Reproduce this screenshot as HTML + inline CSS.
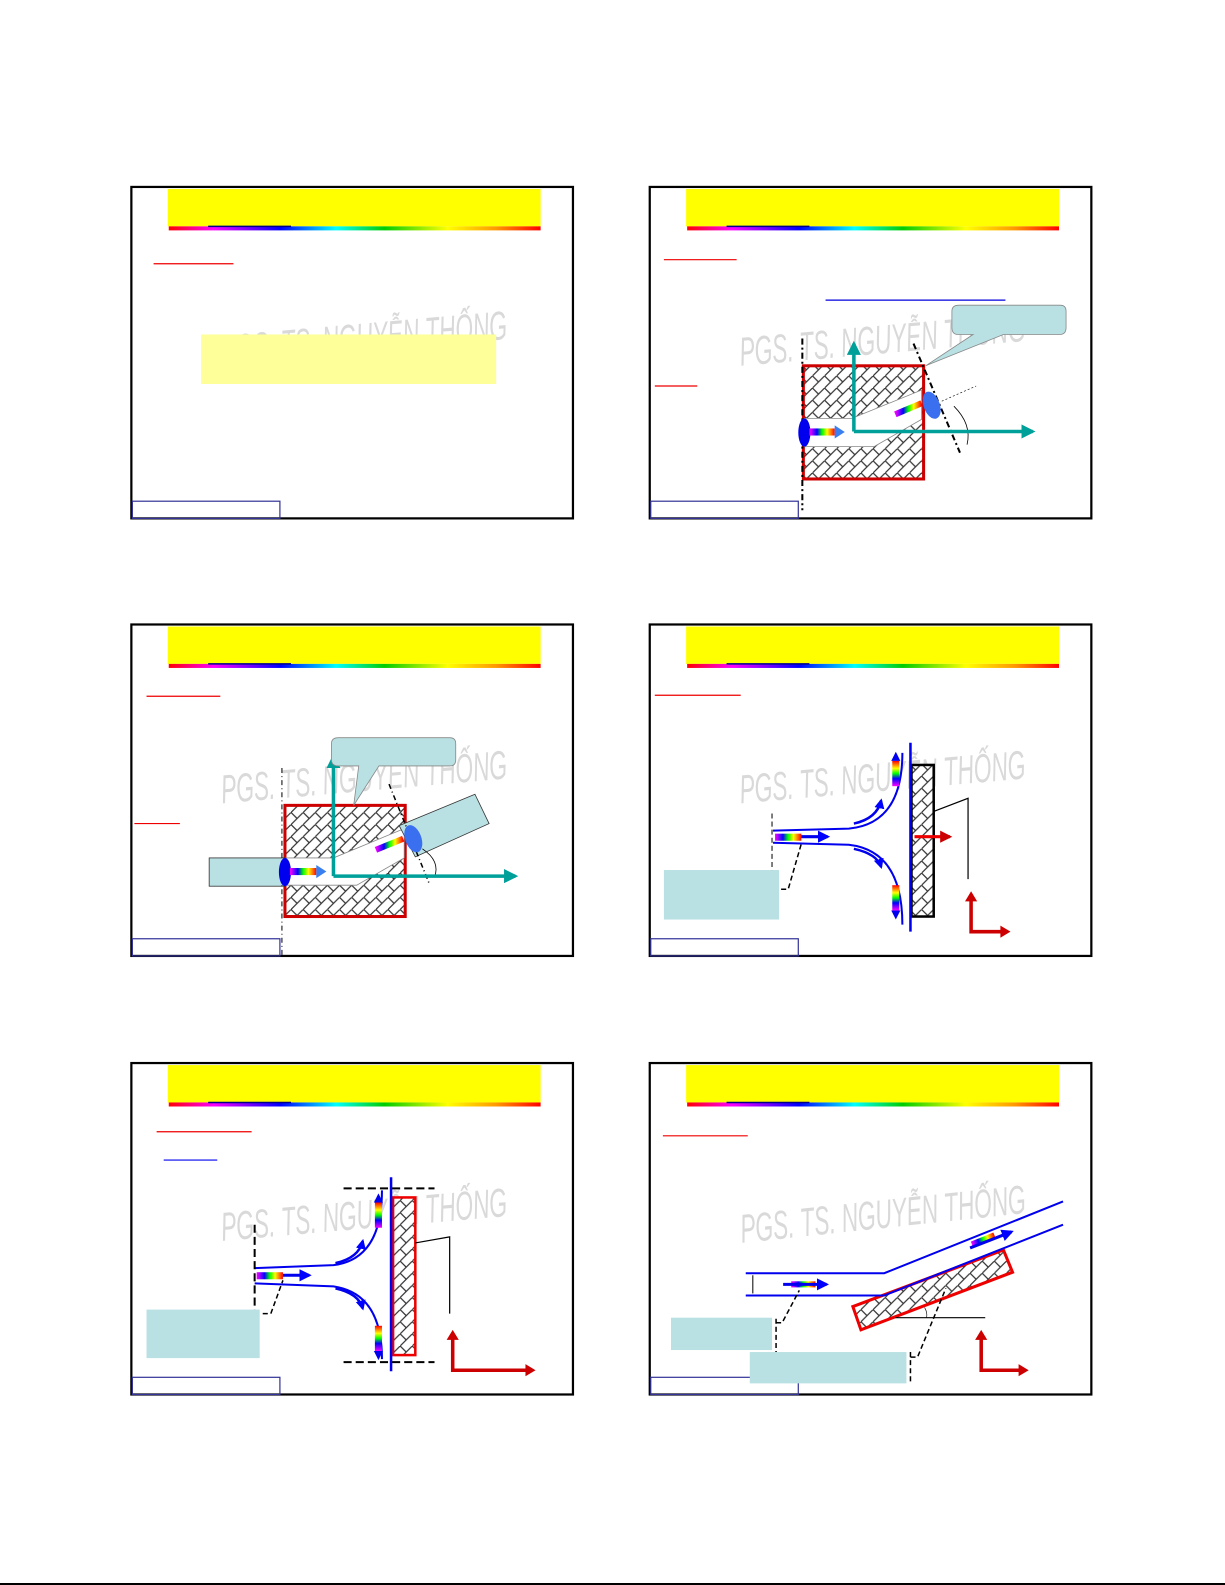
<!DOCTYPE html>
<html><head><meta charset="utf-8"><style>
html,body{margin:0;padding:0;background:#fff;overflow:hidden;width:1225px;height:1585px;}
svg{display:block;}
.wm{font-family:"Liberation Sans",sans-serif;font-style:italic;font-size:40px;fill:#d9d9d9;}
</style></head><body>
<svg width="1225" height="1585" viewBox="0 0 1225 1585" xmlns="http://www.w3.org/2000/svg">
<defs>
<linearGradient id="rb" x1="0" x2="1" y1="0" y2="0">
<stop offset="0" stop-color="#f00"/><stop offset="0.12" stop-color="#f0f"/><stop offset="0.3" stop-color="#00f"/><stop offset="0.45" stop-color="#0ff"/><stop offset="0.58" stop-color="#0c0"/><stop offset="0.75" stop-color="#ff0"/><stop offset="0.88" stop-color="#f90"/><stop offset="1" stop-color="#f00"/>
</linearGradient>
<linearGradient id="ar" x1="0" x2="1">
<stop offset="0" stop-color="#f0f"/><stop offset="0.3" stop-color="#00f"/><stop offset="0.5" stop-color="#0f0"/><stop offset="0.7" stop-color="#ff0"/><stop offset="1" stop-color="#f00"/>
</linearGradient>
<linearGradient id="arv" x1="0" x2="0" y1="0" y2="1">
<stop offset="0" stop-color="#f00"/><stop offset="0.3" stop-color="#ff0"/><stop offset="0.5" stop-color="#0f0"/><stop offset="0.7" stop-color="#00f"/><stop offset="1" stop-color="#f0f"/>
</linearGradient>
<pattern id="hatch" width="12" height="12" patternUnits="userSpaceOnUse">
<rect width="12" height="12" fill="#fff"/>
<path d="M0 12 L12 0 M0 0 L6 6" stroke="#333" stroke-width="1.2" fill="none"/>
</pattern>
<g id="frame">
<rect x="0" y="0" width="437" height="328" fill="#fff" stroke="#000" stroke-width="2.2"/>
<rect x="36" y="2" width="369" height="37" fill="#ff0"/>
<rect x="37" y="39" width="368" height="4" fill="url(#rb)"/>
<line x1="76" y1="39" x2="158" y2="39" stroke="#00008b" stroke-width="1.5"/>
<rect x="1" y="311" width="146" height="17" fill="none" stroke="#333399" stroke-width="1.2"/>
</g>
<marker id="ta" viewBox="0 0 10 10" refX="8" refY="5" markerWidth="4" markerHeight="4" orient="auto"><path d="M0 0L10 5L0 10z" fill="#00a09a"/></marker>
<marker id="ba" viewBox="0 0 10 10" refX="8" refY="5" markerWidth="4" markerHeight="4" orient="auto"><path d="M0 0L10 5L0 10z" fill="#00f"/></marker>
<marker id="ra" viewBox="0 0 10 10" refX="8" refY="5" markerWidth="4" markerHeight="4" orient="auto"><path d="M0 0L10 5L0 10z" fill="#c00"/></marker>
</defs>

<g transform="scale(1.0105)">
<use href="#frame" x="130" y="185"/>
<use href="#frame" x="643" y="185"/>
<use href="#frame" x="130" y="618"/>
<use href="#frame" x="643" y="618"/>
<use href="#frame" x="130" y="1052"/>
<use href="#frame" x="643" y="1052"/>

<!-- Slide 1 -->
<line x1="152" y1="261" x2="231" y2="261" stroke="#e00" stroke-width="1.2"/>
<g transform="translate(220 360) rotate(-5) scale(0.56 1)"><text class="wm" x="0" y="0">PGS. TS. NGUYỄN THỐNG</text></g>
<rect x="199" y="331" width="292" height="49" fill="#ffff99"/>

<!-- Slide 2 -->
<line x1="657" y1="257" x2="729" y2="257" stroke="#e00" stroke-width="1.2"/>
<line x1="817" y1="297" x2="995" y2="297" stroke="#00d" stroke-width="1.2"/>
<line x1="648" y1="382" x2="690" y2="382" stroke="#e00" stroke-width="1.2"/>
<g transform="translate(733 362) rotate(-5) scale(0.56 1)"><text class="wm" x="0" y="0">PGS. TS. NGUYỄN THỐNG</text></g>
<rect x="795" y="362" width="119" height="112" fill="url(#hatch)" stroke="#c00" stroke-width="3"/>
<path d="M796 414 L843 414 L912 386 L912 415 L865 442 L796 442Z" fill="#fff" stroke="#888" stroke-width="0.8"/>
<line x1="794" y1="335" x2="794" y2="505" stroke="#000" stroke-width="2" stroke-dasharray="6,3,2,3"/>
<line x1="904" y1="340" x2="950" y2="448" stroke="#000" stroke-width="2" stroke-dasharray="6,3,2,3"/>
<path d="M944 402 Q962 420 957 440" fill="none" stroke="#000" stroke-width="0.8"/>
<line x1="932" y1="397" x2="966" y2="382" stroke="#000" stroke-width="0.6" stroke-dasharray="2,2"/>
<ellipse cx="796" cy="428" rx="6" ry="14" fill="#00e"/>
<rect x="801" y="424" width="25" height="7" fill="url(#ar)"/>
<path d="M826 421 L836 427.5 L826 434Z" fill="#3a7ff0"/>
<ellipse cx="922" cy="401" rx="8" ry="14" fill="#3a6ff0" transform="rotate(-20 922 401)"/>
<line x1="886" y1="410" x2="912" y2="399" stroke="url(#ar)" stroke-width="6"/>
<line x1="845" y1="427" x2="1022" y2="427" stroke="#00a09a" stroke-width="3.5" marker-end="url(#ta)"/>
<line x1="845" y1="427" x2="845" y2="340" stroke="#00a09a" stroke-width="3.5" marker-end="url(#ta)"/>
<path d="M949 302 L1049 302 Q1055 302 1055 308 L1055 324 Q1055 331 1049 331 L993 331 L916 362 L963 331 L948 331 Q942 331 942 324 L942 308 Q942 302 949 302Z" fill="#b9e0e3" stroke="#888" stroke-width="0.8"/>

<!-- Slide 3 -->
<line x1="145" y1="689" x2="218" y2="689" stroke="#e00" stroke-width="1.2"/>
<line x1="133" y1="815" x2="178" y2="815" stroke="#e00" stroke-width="1.2"/>
<g transform="translate(220 795) rotate(-5) scale(0.56 1)"><text class="wm" x="0" y="0">PGS. TS. NGUYỄN THỐNG</text></g>
<rect x="282" y="797" width="119" height="110" fill="url(#hatch)" stroke="#c00" stroke-width="3"/>
<path d="M283 849 L330 849 L400 820 L400 849 L353 876 L283 876Z" fill="#fff" stroke="#888" stroke-width="0.8"/>
<path d="M395 817 L470 786 L484 815 L411 848Z" fill="#b9e0e3" stroke="#333" stroke-width="0.8"/>
<rect x="207" y="849" width="75" height="28" fill="#b9e0e3" stroke="#333" stroke-width="0.8"/>
<line x1="279" y1="760" x2="279" y2="945" stroke="#000" stroke-width="1" stroke-dasharray="5,3,1,3"/>
<line x1="385" y1="776" x2="425" y2="875" stroke="#000" stroke-width="1.5" stroke-dasharray="5,3,1,3"/>
<path d="M418 840 Q436 852 430 868" fill="none" stroke="#000" stroke-width="0.8"/>
<ellipse cx="282" cy="863" rx="6" ry="14" fill="#00e"/>
<rect x="287" y="859" width="26" height="7" fill="url(#ar)"/>
<path d="M313 856 L323 862.5 L313 869Z" fill="#3a7ff0"/>
<ellipse cx="409" cy="830" rx="8" ry="14" fill="#3a6ff0" transform="rotate(-20 409 830)"/>
<line x1="372" y1="841" x2="399" y2="830" stroke="url(#ar)" stroke-width="6"/>
<line x1="330" y1="867" x2="510" y2="867" stroke="#00a09a" stroke-width="3.5" marker-end="url(#ta)"/>
<line x1="330" y1="867" x2="330" y2="749" stroke="#00a09a" stroke-width="3.5" marker-end="url(#ta)"/>
<path d="M335 730 L445 730 Q451 730 451 736 L451 752 Q451 758 445 758 L375 758 L350 797 L355 758 L335 758 Q328 758 328 752 L328 736 Q328 730 335 730Z" fill="#b9e0e3" stroke="#888" stroke-width="0.8"/>

<!-- Slide 4 -->
<line x1="648" y1="688" x2="733" y2="688" stroke="#e00" stroke-width="1.2"/>
<g transform="translate(733 795) rotate(-5) scale(0.56 1)"><text class="wm" x="0" y="0">PGS. TS. NGUYỄN THỐNG</text></g>
<rect x="902" y="757" width="22" height="150" fill="url(#hatch)" stroke="#000" stroke-width="2.5"/>
<line x1="901" y1="735" x2="901" y2="922" stroke="#00e" stroke-width="2.5"/>
<path d="M765 822 L840 820 Q893 815 893 745" fill="none" stroke="#00e" stroke-width="2"/>
<path d="M765 834 L840 836 Q893 842 893 915" fill="none" stroke="#00e" stroke-width="2"/>
<line x1="764" y1="805" x2="764" y2="880" stroke="#000" stroke-width="1" stroke-dasharray="5,3"/>
<rect x="767" y="825" width="26" height="7" fill="url(#ar)"/>
<line x1="793" y1="828" x2="819" y2="828" stroke="#00e" stroke-width="3" marker-end="url(#ba)"/>
<path d="M845 815 Q868 810 872 792" fill="none" stroke="#00e" stroke-width="2.5" marker-end="url(#ba)"/>
<path d="M845 840 Q868 845 872 858" fill="none" stroke="#00e" stroke-width="2.5" marker-end="url(#ba)"/>
<rect x="883" y="753" width="7" height="25" fill="url(#arv)"/>
<path d="M882 753 L886.5 744 L891 753Z" fill="#00e"/>
<rect x="883" y="876" width="7" height="25" fill="url(#arv)"/>
<path d="M882 901 L886.5 910 L891 901Z" fill="#00e"/>
<line x1="905" y1="828" x2="940" y2="828" stroke="#e00" stroke-width="3" marker-end="url(#ra)"/>
<path d="M924 803 L958 790 L958 870" fill="none" stroke="#000" stroke-width="1.2"/>
<path d="M773 880 L780 880 L793 835" fill="none" stroke="#000" stroke-width="1.5" stroke-dasharray="5,3"/>
<rect x="657" y="861" width="114" height="49" fill="#b9e0e3"/>
<path d="M961 890 L961 922 L992 922" fill="none" stroke="#c00" stroke-width="3.5"/>
<path d="M955 892 L961 882 L967 892Z M990 916 L1000 922 L990 928Z" fill="#c00"/>

<!-- Slide 5 -->
<line x1="155" y1="1120" x2="249" y2="1120" stroke="#e00" stroke-width="1.2"/>
<line x1="162" y1="1148" x2="215" y2="1148" stroke="#00e" stroke-width="1.2"/>
<g transform="translate(220 1228) rotate(-5) scale(0.56 1)"><text class="wm" x="0" y="0">PGS. TS. NGUYỄN THỐNG</text></g>
<rect x="389" y="1185" width="22" height="156" fill="url(#hatch)" stroke="#e00" stroke-width="2.5"/>
<line x1="387" y1="1165" x2="387" y2="1357" stroke="#00e" stroke-width="2.5"/>
<line x1="340" y1="1176" x2="430" y2="1176" stroke="#000" stroke-width="2" stroke-dasharray="8,4"/>
<line x1="340" y1="1348" x2="430" y2="1348" stroke="#000" stroke-width="2" stroke-dasharray="8,4"/>
<path d="M252 1255 L330 1252 Q378 1246 378 1178" fill="none" stroke="#00e" stroke-width="2"/>
<path d="M252 1270 L330 1273 Q378 1280 378 1345" fill="none" stroke="#00e" stroke-width="2"/>
<line x1="252" y1="1212" x2="252" y2="1340" stroke="#000" stroke-width="2" stroke-dasharray="8,4"/>
<rect x="254" y="1259" width="26" height="7" fill="url(#ar)"/>
<line x1="280" y1="1262" x2="306" y2="1262" stroke="#00e" stroke-width="3" marker-end="url(#ba)"/>
<path d="M332 1250 Q355 1245 359 1228" fill="none" stroke="#00e" stroke-width="2.5" marker-end="url(#ba)"/>
<path d="M332 1275 Q355 1280 359 1295" fill="none" stroke="#00e" stroke-width="2.5" marker-end="url(#ba)"/>
<rect x="371" y="1190" width="7" height="25" fill="url(#arv)"/>
<path d="M370 1190 L374.5 1181 L379 1190Z" fill="#00e"/>
<rect x="371" y="1312" width="7" height="25" fill="url(#arv)"/>
<path d="M370 1337 L374.5 1346 L379 1337Z" fill="#00e"/>
<path d="M411 1230 L445 1224 L445 1300" fill="none" stroke="#000" stroke-width="1.2"/>
<path d="M260 1300 L268 1300 L280 1267" fill="none" stroke="#000" stroke-width="1.5" stroke-dasharray="5,3"/>
<rect x="145" y="1296" width="112" height="48" fill="#b9e0e3"/>
<path d="M448 1324 L448 1356 L522 1356" fill="none" stroke="#c00" stroke-width="3.5"/>
<path d="M442 1326 L448 1316 L454 1326Z M520 1350 L530 1356 L520 1362Z" fill="#c00"/>

<!-- Slide 6 -->
<line x1="656" y1="1124" x2="740" y2="1124" stroke="#e00" stroke-width="1.2"/>
<g transform="translate(734 1230) rotate(-6) scale(0.56 1)"><text class="wm" x="0" y="0">PGS. TS. NGUYỄN THỐNG</text></g>
<polygon points="844,1293 993,1237 1002,1259 852,1316" fill="url(#hatch)" stroke="#e00" stroke-width="3"/>
<path d="M738 1260 L875 1260 L1052 1189" fill="none" stroke="#00e" stroke-width="2"/>
<path d="M738 1282 L875 1282 L1052 1212" fill="none" stroke="#00e" stroke-width="2"/>
<line x1="745" y1="1262" x2="745" y2="1280" stroke="#000" stroke-width="1"/>
<rect x="783" y="1268" width="24" height="6" fill="url(#ar)"/>
<line x1="775" y1="1271" x2="818" y2="1271" stroke="#00e" stroke-width="3" marker-end="url(#ba)"/>
<rect x="961" y="1224" width="24" height="6" fill="url(#ar)" transform="rotate(-22 973 1227)"/>
<line x1="960" y1="1235" x2="1001" y2="1219" stroke="#00e" stroke-width="3" marker-end="url(#ba)"/>
<line x1="886" y1="1304" x2="975" y2="1304" stroke="#000" stroke-width="1"/>
<path d="M915 1294 Q918 1299 917 1304" fill="none" stroke="#000" stroke-width="0.6"/>
<path d="M768 1309 L774 1309 L791 1277" fill="none" stroke="#000" stroke-width="1.5" stroke-dasharray="5,3"/>
<line x1="768" y1="1305" x2="768" y2="1338" stroke="#000" stroke-width="1.5" stroke-dasharray="5,3"/>
<path d="M901 1343 L908 1343 L936 1275" fill="none" stroke="#000" stroke-width="1.5" stroke-dasharray="5,3"/>
<line x1="901" y1="1338" x2="901" y2="1369" stroke="#000" stroke-width="1.5" stroke-dasharray="5,3"/>
<rect x="664" y="1304" width="100" height="32" fill="#b9e0e3"/>
<rect x="742" y="1338" width="155" height="31" fill="#b9e0e3"/>
<path d="M971 1324 L971 1356 L1010 1356" fill="none" stroke="#c00" stroke-width="3.5"/>
<path d="M965 1326 L971 1316 L977 1326Z M1008 1350 L1018 1356 L1008 1362Z" fill="#c00"/>
</g>

<line x1="0" y1="1584" x2="1225" y2="1584" stroke="#000" stroke-width="2"/>
</svg>
</body></html>
